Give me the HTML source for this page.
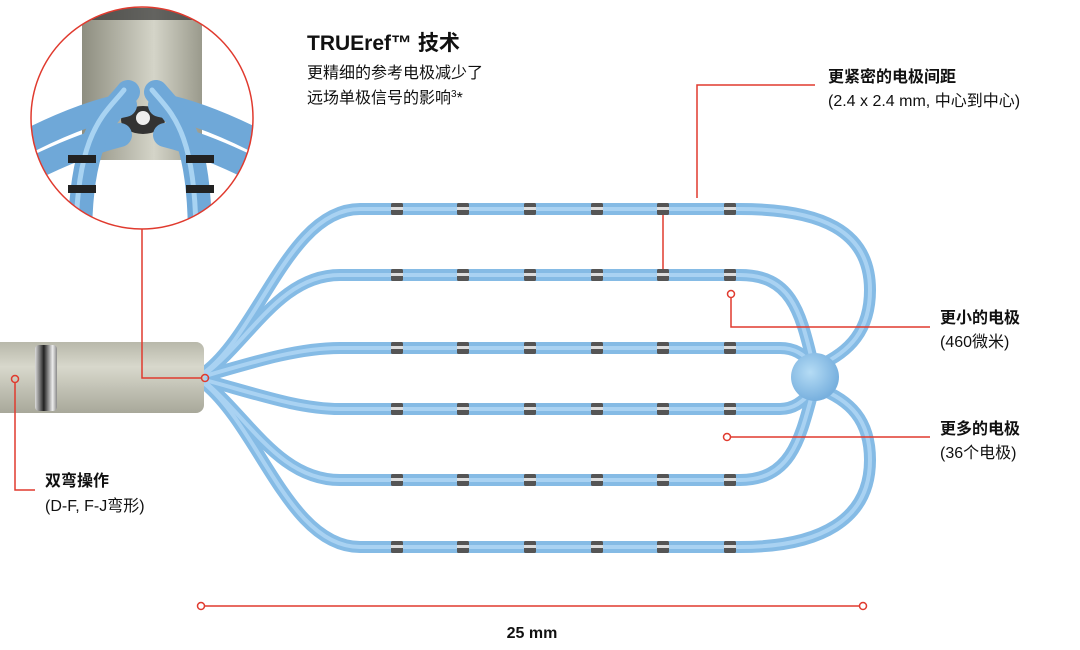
<!DOCTYPE html>
<html><head><meta charset="utf-8"><style>
body{margin:0;background:#fff;width:1080px;height:645px;overflow:hidden;font-family:"Liberation Sans","Noto Sans CJK SC",sans-serif}
</style></head><body>
<svg width="1080" height="645" viewBox="0 0 1080 645" xmlns="http://www.w3.org/2000/svg">
<defs>
<linearGradient id="sh" x1="0" y1="0" x2="0" y2="1"><stop offset="0" stop-color="#b8b8aa"/><stop offset="0.35" stop-color="#d8d8cc"/><stop offset="1" stop-color="#a8a89a"/></linearGradient>
<linearGradient id="band" x1="0" y1="0" x2="1" y2="0"><stop offset="0" stop-color="#ddd"/><stop offset="0.4" stop-color="#222"/><stop offset="0.8" stop-color="#eee"/><stop offset="1" stop-color="#888"/></linearGradient>
<radialGradient id="hub" cx="0.4" cy="0.4" r="0.6"><stop offset="0" stop-color="#b5dcf5"/><stop offset="1" stop-color="#78b0de"/></radialGradient>
<linearGradient id="cyl" x1="0" y1="0" x2="1" y2="0"><stop offset="0" stop-color="#8e8e80"/><stop offset="0.6" stop-color="#d4d4c8"/><stop offset="1" stop-color="#9a9a8c"/></linearGradient>
<clipPath id="cc"><circle cx="142" cy="118" r="111"/></clipPath>
<g id="el"><rect x="-6" y="-6" width="12" height="12" rx="1.5" fill="#555"/><rect x="-6" y="-2" width="12" height="3" fill="#ddd"/></g>
</defs>

<g fill="none" stroke-linecap="round">
<g stroke="#85bbe5" stroke-width="12">
<path id="a1" d="M205,372 C260,330 290,209 360,209 L740,209 C820,209 870,230 870,290 C870,330 850,352 818,366"/>
<path id="a2" d="M205,374 C250,340 280,275 340,275 L740,275 C790,275 800,310 812,360"/>
<path id="a3" d="M205,376 C260,360 300,348 340,348 L780,348 C795,348 805,355 812,365"/>
<path id="a4" d="M205,380 C260,395 300,409 340,409 L780,409 C795,409 805,400 812,390"/>
<path id="a5" d="M205,382 C250,420 280,480 340,480 L740,480 C790,480 800,440 812,395"/>
<path id="a6" d="M205,384 C260,430 290,547 360,547 L740,547 C820,547 870,520 870,460 C870,420 850,400 818,388"/>
</g>
<g stroke="#a9d2f2" stroke-width="4">
<use href="#a1"/><use href="#a2"/><use href="#a3"/><use href="#a4"/><use href="#a5"/><use href="#a6"/>
</g>
</g>
<circle cx="815" cy="377" r="24" fill="url(#hub)"/>

<g>
<use href="#el" x="397" y="209"/><use href="#el" x="463" y="209"/><use href="#el" x="530" y="209"/><use href="#el" x="597" y="209"/><use href="#el" x="663" y="209"/><use href="#el" x="730" y="209"/>
<use href="#el" x="397" y="275"/><use href="#el" x="463" y="275"/><use href="#el" x="530" y="275"/><use href="#el" x="597" y="275"/><use href="#el" x="663" y="275"/><use href="#el" x="730" y="275"/>
<use href="#el" x="397" y="348"/><use href="#el" x="463" y="348"/><use href="#el" x="530" y="348"/><use href="#el" x="597" y="348"/><use href="#el" x="663" y="348"/><use href="#el" x="730" y="348"/>
<use href="#el" x="397" y="409"/><use href="#el" x="463" y="409"/><use href="#el" x="530" y="409"/><use href="#el" x="597" y="409"/><use href="#el" x="663" y="409"/><use href="#el" x="730" y="409"/>
<use href="#el" x="397" y="480"/><use href="#el" x="463" y="480"/><use href="#el" x="530" y="480"/><use href="#el" x="597" y="480"/><use href="#el" x="663" y="480"/><use href="#el" x="730" y="480"/>
<use href="#el" x="397" y="547"/><use href="#el" x="463" y="547"/><use href="#el" x="530" y="547"/><use href="#el" x="597" y="547"/><use href="#el" x="663" y="547"/><use href="#el" x="730" y="547"/>
</g>

<rect x="-10" y="342" width="214" height="71" rx="8" fill="url(#sh)"/>
<rect x="35" y="345" width="22" height="66" rx="4" fill="url(#band)"/>

<g clip-path="url(#cc)">
<rect x="0" y="0" width="300" height="240" fill="#fff"/>
<rect x="82" y="0" width="120" height="160" rx="14" fill="url(#cyl)"/>
<rect x="88" y="8" width="108" height="12" fill="#333" opacity="0.7"/>
<ellipse cx="143" cy="120" rx="22" ry="14" fill="#333"/>
<circle cx="143" cy="118" r="7" fill="#eee"/>
<g fill="none" stroke="#6fa8d8" stroke-width="24" stroke-linecap="round">
<path d="M30,140 C70,120 100,110 125,105"/><path d="M255,140 C215,120 185,110 160,105"/>
<path d="M30,170 C70,150 100,140 120,135"/><path d="M255,170 C215,150 185,140 165,135"/>
<path d="M128,92 C110,115 80,130 80,240"/><path d="M156,92 C175,115 200,130 200,240"/>
</g>
<g fill="none" stroke="#a8d3f2" stroke-width="5" stroke-linecap="round">
<path d="M124,90 C106,113 76,130 76,240"/><path d="M152,90 C171,113 196,130 196,240"/>
</g>
<g fill="#222"><rect x="68" y="155" width="28" height="8"/><rect x="68" y="185" width="28" height="8"/><rect x="186" y="155" width="28" height="8"/><rect x="186" y="185" width="28" height="8"/></g>
</g>
<circle cx="142" cy="118" r="111" fill="none" stroke="#e03a2e" stroke-width="1.5"/>

<g fill="none" stroke="#e03a2e" stroke-width="1.5">
<path d="M142,229 V378 H201"/><circle cx="205" cy="378" r="3.5"/>
<circle cx="15" cy="379" r="3.5"/><path d="M15,383 V490 H35"/>
<path d="M697,198 V85 H815"/><path d="M663,215 V269"/>
<circle cx="731" cy="294" r="3.5"/><path d="M731,298 V327 H930"/>
<circle cx="727" cy="437" r="3.5"/><path d="M731,437 H930"/>
<circle cx="201" cy="606" r="3.5"/><circle cx="863" cy="606" r="3.5"/><path d="M205,606 H859"/>
</g>

<g fill="#111" font-size="16">
<text x="307" y="50" font-size="21" font-weight="bold">TRUEref™ 技术</text>
<text x="307" y="78">更精细的参考电极减少了</text>
<text x="307" y="103">远场单极信号的影响<tspan font-size="10" dy="-6">3</tspan><tspan dy="6">*</tspan></text>
<text x="828" y="82" font-weight="bold">更紧密的电极间距</text>
<text x="828" y="106">(2.4 x 2.4 mm, 中心到中心)</text>
<text x="940" y="323" font-weight="bold">更小的电极</text>
<text x="940" y="347">(460微米)</text>
<text x="940" y="434" font-weight="bold">更多的电极</text>
<text x="940" y="458">(36个电极)</text>
<text x="45" y="486" font-weight="bold">双弯操作</text>
<text x="45" y="511">(D-F, F-J弯形)</text>
<text x="532" y="638" font-weight="bold" text-anchor="middle">25 mm</text>
</g>
</svg>
</body></html>
